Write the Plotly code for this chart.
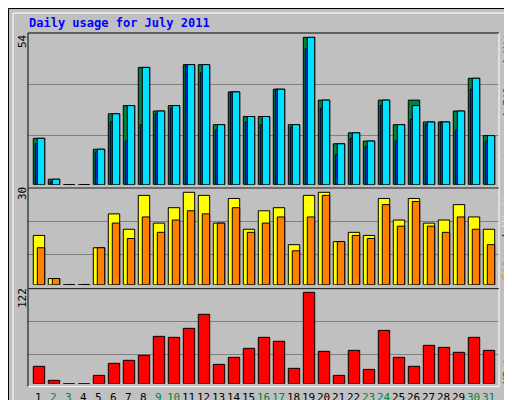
import plotly.graph_objects as go

days = list(range(1, 32))
hits  = [17,2,0,0,13,26,29,43,27,29,44,44,22,34,25,25,35,22,54,31,15,19,16,31,22,31,23,23,27,39,18]
files = [15,1,0,0,12,23,16,22,26,28,44,41,20,34,23,22,35,21,50,28,11,17,14,29,16,24,22,23,20,35,16]
pages = [17,2,0,0,13,26,29,43,27,29,44,44,22,34,25,25,35,22,54,31,15,19,16,31,22,29,23,23,27,39,18]
visits = [16,2,0,0,12,23,18,29,20,25,30,29,20,28,18,24,25,13,29,30,14,17,16,28,21,28,20,21,26,22,18]
sites  = [12,2,0,0,12,20,15,22,17,21,24,23,20,25,17,20,22,11,22,29,14,16,15,26,19,27,19,17,22,18,13]
kbytes = [23.2,4.5,0,0,11.1,27.2,31.2,37.9,63.2,61.9,73.9,92.6,25.8,35.2,47.2,61.9,56.6,20.5,122,43.2,11.1,44.5,19.1,71.2,35.2,23.2,51.2,48.5,41.9,61.9,44.5]
weekend = {2,3,9,10,16,17,23,24,30,31}
W, H = 512, 400
px = lambda x: x / W
py = lambda y: 1 - y / H

fig = go.Figure()
line = dict(color="black", width=1)
def bar(vals, color, off, wid, ya, name):
    fig.add_trace(go.Bar(x=days, y=vals, offset=off, width=wid, yaxis=ya, name=name,
                         marker=dict(color=color, line=line)))
bar(hits, "#008040", -0.38, 0.76, "y", "Hits")
bar(files, "#0040FF", -0.247, 0.18, "y", "Files")
bar(pages, "#00E0FF", -0.113, 0.493, "y", "Pages")
bar(visits, "#FFFF00", -0.38, 0.76, "y2", "Visits")
bar(sites, "#FF8000", -0.113, 0.493, "y2", "Sites")
bar(kbytes, "#FF0000", -0.38, 0.76, "y3", "KBytes")

yax = dict(showticklabels=False, showgrid=True, gridcolor="#808080", gridwidth=1,
           zeroline=False, ticks="", anchor="x", fixedrange=True, automargin=False)
fig.update_layout(
    width=W, height=H, margin=dict(l=0, r=0, t=0, b=0, autoexpand=False),
    paper_bgcolor="#C0C0C0", plot_bgcolor="#C0C0C0", barmode="overlay", showlegend=False,
    font=dict(family="DejaVu Sans Mono", size=11, color="black"),
    xaxis=dict(domain=[px(20), px(491)], range=[0.267, 31.667], anchor="y3",
               showticklabels=False, showgrid=False, zeroline=False, ticks="", automargin=False),
    yaxis=dict(domain=[py(176.7), py(25)], range=[0, 55.6], tickvals=[18.2, 36.9], **yax),
    yaxis2=dict(domain=[py(276.7), py(180.3)], range=[0, 31.3], tickvals=[9.9, 20.6], **yax),
    yaxis3=dict(domain=[py(375.7), py(280.7)], range=[0, 126.8], tickvals=[39.6, 83.3], **yax),
)

shapes = []
def ln(x0, y0, x1, y1, c, w=1):
    shapes.append(dict(type="line", xref="paper", yref="paper", x0=px(x0), y0=py(y0),
                       x1=px(x1), y1=py(y1), line=dict(color=c, width=w)))
ln(0.5, 0.5, 511.5, 0.5, "black"); ln(0.5, 399.5, 511.5, 399.5, "black")
ln(0.5, 0.5, 0.5, 399.5, "black"); ln(511.5, 0.5, 511.5, 399.5, "black")
ln(5, 5, 506, 5, "white"); ln(5, 5, 5, 396, "white")
ln(508, 4, 508, 398, "#808080", 4); ln(4, 397, 510, 397, "#808080", 4)
for top, bot in [(25, 180), (180, 280.7), (280.7, 378.7)]:
    ln(20, top, 491, top, "black"); ln(20, top, 20, bot, "black")
    ln(20, bot, 491, bot, "white"); ln(491, top, 491, bot, "white")
fig.update_layout(shapes=shapes)

ann = []
def text(x, y, t, angle=0, color="black", size=11):
    ann.append(dict(xref="paper", yref="paper", x=px(x), y=py(y), text=t,
                    showarrow=False, textangle=angle, font=dict(color=color, size=size,
                    family="DejaVu Sans Mono"), xanchor="center", yanchor="middle"))
ann.append(dict(xref="paper", yref="paper", x=px(19), y=py(15), text="<b>Daily usage for July 2011</b>",
                showarrow=False, xanchor="left", yanchor="middle",
                font=dict(color="#0000FF", size=12, family="DejaVu Sans Mono")))
for d in days:
    ann.append(dict(xref="x", yref="paper", x=d, y=py(389), text=str(d), showarrow=False,
                    xanchor="center", yanchor="middle",
                    font=dict(size=11, family="DejaVu Sans Mono",
                              color="#008040" if d in weekend else "black")))
text(14, 33, "54", -90)
text(14, 186, "30", -90)
text(14, 290, "122", -90)
text(499, 85, '<span style="color:#00E0FF">Pages</span> / <span style="color:#0040FF">Files</span> / <span style="color:#008040">Hits</span>', -90)
text(499, 226, '<span style="color:#FF8000">Sites</span> / <span style="color:#FFFF00">Visits</span>', -90)
text(499, 356, '<span style="color:#FF0000">KBytes</span>', -90)
fig.update_layout(annotations=ann)
fig.write_html("out.html")
